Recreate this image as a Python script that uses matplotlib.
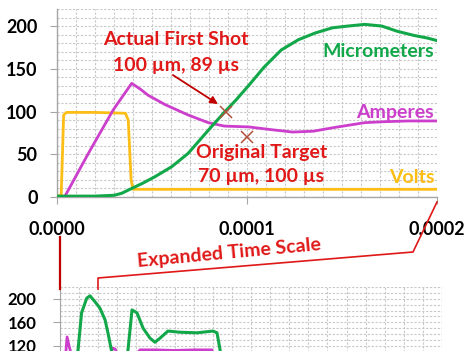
import matplotlib
matplotlib.use("Agg")
import matplotlib.pyplot as plt
from matplotlib.ticker import MultipleLocator, FixedLocator, FuncFormatter
from matplotlib.lines import Line2D
import numpy as np

plt.rcParams['font.family'] = ['Lato', 'DejaVu Sans']
plt.rcParams['font.weight'] = 'bold'

# ---------------- data (time in microseconds) ----------------
volts_t = [0, 2.2, 3.5, 5, 20, 36, 37.5, 39.0, 40, 60, 100, 150, 200]
volts_v = [1, 2, 96, 99, 99, 98, 90, 20, 9, 9, 9, 9, 9]

amps_t = [0, 4.2, 16.5, 29.6, 39.3, 44, 48, 57, 69, 79.6, 88, 101, 112, 124, 135, 145, 162, 171, 185, 200]
amps_v = [0, 1, 51, 102, 133, 126, 119, 108, 96, 87, 83, 82, 79, 76, 77, 81, 87, 88, 89, 89]

micro_t = [0, 20, 30, 34, 39.3, 45, 51.6, 60.4, 69, 79.6, 88.4, 94, 100.7, 109, 118, 127, 136, 145, 153, 162, 171, 179, 188, 195, 200]
micro_v = [1, 1, 2, 4.3, 10, 16, 23.8, 35.5, 51, 78, 100, 113, 130, 152, 172, 184, 192, 198, 200, 202, 200, 194, 189, 186, 183]

# lower (long time-scale) chart
micro2_t = [0, 30, 40, 60, 80, 95, 113, 140, 157, 183, 209, 236, 251, 270, 290, 320, 345, 356, 377, 403, 435, 471, 497, 524, 565, 628, 717, 801, 822, 838, 860]
micro2_v = [1, 2, 10, 35, 78, 115, 176, 201, 205, 195, 184, 164, 142, 111, 80, 70, 90, 113, 181, 176, 150, 133, 126, 133, 145, 143, 142, 145, 142, 113, 60]

amps2_t = [0, 4, 16, 29, 37, 48, 57, 79, 124, 200, 262, 277, 290, 300, 400, 419, 500, 600, 700, 796, 810]
amps2_v = [0, 1, 51, 102, 135, 119, 108, 87, 76, 89, 105, 116, 114, 105, 105, 113, 113, 112, 113, 113, 90]

volts2_t = [0, 2.2, 3.5, 36, 39, 40, 900]
volts2_v = [1, 2, 98, 98, 20, 9, 9]

targets_t = [89, 100]   # us
targets_v = [100, 70]

top_xticks = [0, 0.0001, 0.0002]
top_yticks = [0, 50, 100, 150, 200]
bot_yticks = [120, 160, 200]

GREEN = '#12a84a'
MAGENTA = '#cc3fcc'
YELLOW = '#fbbd16'
RED = '#e01818'
DARKRED = '#c00000'
GRID = '#c8c8c8'

W, H = 469, 351
fig = plt.figure(figsize=(W / 100, H / 100), dpi=100)

def fx(px):
    return px / W

def fy(py):
    return 1 - py / H

us = 1e-6

# ---------------- top chart ----------------
ax = fig.add_axes([fx(57), fy(197), fx(437) - fx(57), fy(9) - fy(197)])
ax.set_xlim(0, 0.0002)
ax.set_ylim(0, 220)
ax.plot(np.array(volts_t) * us, volts_v, color=YELLOW, lw=2.0, zorder=3)
ax.plot(np.array(amps_t) * us, amps_v, color=MAGENTA, lw=2.0, zorder=3)
ax.plot(np.array(micro_t) * us, micro_v, color=GREEN, lw=2.2, zorder=4)
ax.plot(np.array(targets_t) * us, targets_v, linestyle='none', marker='x',
        color='#b4503c', ms=8, mew=1.1, zorder=5)

ax.xaxis.set_major_locator(FixedLocator(top_xticks))
ax.xaxis.set_major_formatter(FuncFormatter(lambda v, p: f"{v:.4f}"))
ax.xaxis.set_minor_locator(MultipleLocator(0.00001))
ax.yaxis.set_major_locator(FixedLocator(top_yticks))
ax.yaxis.set_minor_locator(MultipleLocator(10))
ax.grid(which='both', color=GRID, lw=0.8, ls=(0, (2, 1.5)))
ax.set_axisbelow(True)
for s in ['top', 'right']:
    ax.spines[s].set_visible(False)
for s in ['left', 'bottom']:
    ax.spines[s].set_color('#a6a6a6')
    ax.spines[s].set_linewidth(1.0)
ax.tick_params(axis='both', which='major', length=5, color='#a6a6a6', labelsize=13)
ax.tick_params(axis='y', pad=9)
ax.tick_params(axis='x', pad=12)
ax.tick_params(which='minor', length=0)
for lab in ax.get_xticklabels() + ax.get_yticklabels():
    lab.set_fontweight('bold')

tk = dict(fontsize=14, fontweight='bold')
ax.text(62.6 * us, 177.8, "Actual First Shot", color=RED, ha='center', va='baseline', **tk)
ax.text(62.6 * us, 147.5, "100 µm, 89 µs", color=RED, ha='center', va='baseline', **tk)
ax.text(107.5 * us, 45.6, "Original Target", color=RED, ha='center', va='baseline', **tk)
ax.text(107.5 * us, 17.5, "70 µm, 100 µs", color=RED, ha='center', va='baseline', **tk)
ax.text(198.5 * us, 163.7, "Micrometers", color=GREEN, ha='right', va='baseline', **tk)
ax.text(198.5 * us, 92.4, "Amperes", color=MAGENTA, ha='right', va='baseline', **tk)
ax.text(198.5 * us, 16.4, "Volts", color=YELLOW, ha='right', va='baseline', **tk)
ax.annotate("", xy=(84.7 * us, 108.8), xytext=(61 * us, 142.7),
            arrowprops=dict(arrowstyle='-|>', color=DARKRED, lw=1.3, mutation_scale=11,
                            shrinkA=0, shrinkB=0), zorder=6)

# ---------------- bottom chart ----------------
ppu = 23.5 / 40.0
btop = 287
bbot = btop + 220 * ppu
ax2 = fig.add_axes([fx(60), fy(bbot), fx(442) - fx(60), fy(btop) - fy(bbot)])
ax2.set_xlim(0, 0.002)
ax2.set_ylim(0, 220)
ax2.plot(np.array(volts2_t) * us, volts2_v, color=YELLOW, lw=2.0, zorder=3)
ax2.plot(np.array(amps2_t) * us, amps2_v, color=MAGENTA, lw=2.0, zorder=3)
ax2.plot(np.array(micro2_t) * us, micro2_v, color=GREEN, lw=2.2, zorder=4)
ax2.xaxis.set_major_locator(MultipleLocator(0.0001))
ax2.xaxis.set_major_formatter(FuncFormatter(lambda v, p: ""))
ax2.yaxis.set_major_locator(FixedLocator(bot_yticks))
ax2.yaxis.set_minor_locator(MultipleLocator(10))
ax2.grid(which='both', color=GRID, lw=0.8, ls=(0, (2, 1.5)))
ax2.set_axisbelow(True)
for s in ['top', 'right', 'bottom']:
    ax2.spines[s].set_visible(False)
ax2.spines['left'].set_color('#a6a6a6')
ax2.tick_params(axis='y', which='major', length=5, color='#a6a6a6', labelsize=12, pad=12)
ax2.tick_params(axis='x', length=0)
ax2.tick_params(which='minor', length=0)
for lab in ax2.get_yticklabels():
    lab.set_fontweight('bold')

# ---------------- expanded time scale connectors ----------------
fig.add_artist(Line2D([fx(60), fx(60)], [fy(237), fy(289)], color=DARKRED, lw=1.6))
fig.add_artist(Line2D([fx(98), fx(98), fx(413), fx(437)],
                      [fy(289), fy(278), fy(252), fy(202)], color=RED, lw=1.2))
fig.text(fx(229), fy(253), "Expanded Time Scale", color=RED, fontsize=14, fontweight='bold',
         ha='center', va='center', rotation=5.3, rotation_mode='anchor')

fig.savefig("out.png", dpi=100)
